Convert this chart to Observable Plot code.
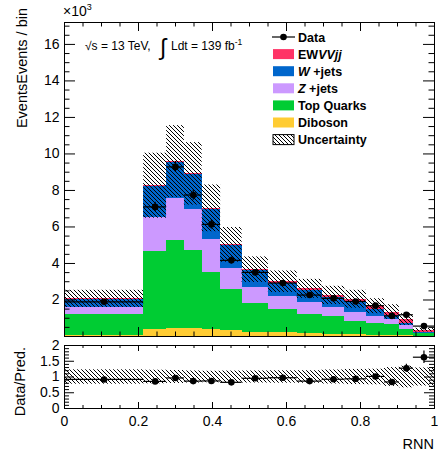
<!DOCTYPE html>
<html><head><meta charset="utf-8">
<script src="https://cdn.jsdelivr.net/npm/d3@7"></script>
<script src="https://cdn.jsdelivr.net/npm/@observablehq/plot@0.6"></script>
<style>
body{margin:0;background:#fff;}
#chart{position:relative;width:438px;height:458px;background:#fff;}
#chart svg{position:absolute;left:0;display:block;}
</style></head><body><div id="chart"></div>
<script>
// ---- data (thousands of events) ----
const binEdges   = [0,0.214,0.276,0.324,0.372,0.422,0.48,0.551,0.629,0.696,0.758,0.816,0.865,0.905,0.943,1];
const diboson    = [0.05,0.37,0.42,0.42,0.37,0.33,0.24,0.20,0.15,0.12,0.10,0.08,0.05,0.03,0.02];
const topQuarks  = [1.14,4.26,4.82,4.31,3.16,2.27,1.59,1.27,1.04,0.98,0.74,0.65,0.59,0.34,0.12];
const zJets      = [0.40,1.89,2.30,2.23,1.80,1.15,0.88,0.74,0.66,0.51,0.50,0.37,0.29,0.23,0.03];
const wJets      = [0.44,1.68,1.98,1.89,1.63,1.21,0.88,0.72,0.68,0.55,0.60,0.37,0.22,0.13,0.03];
const ewVVjj     = [0.03,0.06,0.06,0.06,0.06,0.06,0.07,0.07,0.08,0.09,0.10,0.19,0.19,0.20,0.15];
const uncertainty= [0.47,1.78,1.97,1.71,1.28,0.95,0.70,0.59,0.52,0.50,0.49,0.41,0.40,0.32,0.10];
const dataValues = [1.90,7.10,9.29,7.75,6.14,4.17,3.51,2.93,2.27,2.09,1.92,1.69,1.13,1.19,0.57];
const dataErrors = [0.06,0.25,0.30,0.28,0.25,0.18,0.10,0.08,0.07,0.07,0.07,0.08,0.08,0.12,0.07];

const processNames = ["Diboson","Top Quarks","Z+jets","W+jets","EWVVjj"];
const processValues = [diboson, topQuarks, zJets, wJets, ewVVjj];
const processColors = ["#ffcc33","#00cc33","#cc99ff","#0066cc","#ff3366"];

const xMajorTicks = [0,0.2,0.4,0.6,0.8,1];
const yMajorTicks = [2,4,6,8,10,12,14,16];
const ratioTicks  = [0,0.5,1,1.5,2];

const FONT = '"Liberation Sans", Arial, Helvetica, sans-serif';
const fmt = d => String(d);

// ---- derived tables ----
const stackRows = [];
const binRows = [];
for (let i = 0; i < binEdges.length - 1; i++) {
  let cum = 0;
  processNames.forEach((p, k) => {
    const v = processValues[k][i];
    stackRows.push({process: p, x1: binEdges[i], x2: binEdges[i+1], y1: cum, y2: cum + v});
    cum += v;
  });
  const tot = cum, u = uncertainty[i], d = dataValues[i], e = dataErrors[i];
  binRows.push({
    x1: binEdges[i], x2: binEdges[i+1], xc: (binEdges[i] + binEdges[i+1]) / 2,
    total: tot, lo: tot - u, hi: tot + u,
    data: d, dlo: d - e, dhi: d + e,
    rlo: (tot - u) / tot, rhi: (tot + u) / tot,
    ratio: d / tot, rdlo: (d - e) / tot, rdhi: (d + e) / tot
  });
}

const isMinor = (v, step) => Math.abs(v / step - Math.round(v / step)) > 1e-6;
const xMinor = d3.range(0, 1.0001, 0.05).filter(v => isMinor(v, 0.2));
const yMinor = d3.range(0.5, 17.2, 0.5).filter(v => isMinor(v, 2));
const rMinor = d3.range(0.1, 2, 0.1).filter(v => isMinor(v, 0.5));

const W = 438, ML = 64, MR = 4;
const FW = W - ML - MR;

function tickMarks(xMaj, xMin, yMaj, yMin, FH, xL, xl, yL, yl) {
  return [
    Plot.tickX(xMaj, {insetTop: FH - xL, stroke: "black"}),
    Plot.tickX(xMin, {insetTop: FH - xl, stroke: "black"}),
    Plot.tickX(xMaj, {insetBottom: FH - xL, stroke: "black"}),
    Plot.tickX(xMin, {insetBottom: FH - xl, stroke: "black"}),
    Plot.tickY(yMaj, {insetRight: FW - yL, stroke: "black"}),
    Plot.tickY(yMin, {insetRight: FW - yl, stroke: "black"}),
    Plot.tickY(yMaj, {insetLeft: FW - yL, stroke: "black"}),
    Plot.tickY(yMin, {insetLeft: FW - yl, stroke: "black"})
  ];
}

// ---- main panel ----
const MT = 22, MB = 4, MH = 340;
const main = Plot.plot({
  width: W, height: MH,
  marginLeft: ML, marginRight: MR, marginTop: MT, marginBottom: MB,
  x: {domain: [0, 1], axis: null},
  y: {domain: [0, 17.2]},
  color: {domain: processNames, range: processColors},
  style: {fontFamily: FONT, fontSize: "14px", color: "black", background: "white", overflow: "visible"},
  marks: [
    Plot.rect(stackRows, {x1: "x1", x2: "x2", y1: "y1", y2: "y2", fill: "process", shapeRendering: "crispEdges"}),
    Plot.rect(binRows, {x1: "x1", x2: "x2", y1: "lo", y2: "hi", fill: "url(#hatchMain)"}),
    Plot.ruleY(binRows, {x1: "x1", x2: "x2", y: "data", stroke: "black", strokeWidth: 1.2}),
    Plot.ruleX(binRows, {x: "xc", y1: "dlo", y2: "dhi", stroke: "black", strokeWidth: 1.2}),
    Plot.dot(binRows, {x: "xc", y: "data", r: 3.3, fill: "black", stroke: "none"}),
    ...tickMarks(xMajorTicks, xMinor, yMajorTicks, yMinor, MH - MT - MB, 9, 4.5, 11, 5.5),
    Plot.axisY(yMajorTicks, {tickSize: 0, tickPadding: 5, label: null, tickFormat: fmt}),
    Plot.frame({stroke: "black"})
  ]
});
main.style.top = "0px";

// ---- ratio panel ----
const RT = 5, RB = 50, RH = 118;
const ratio = Plot.plot({
  width: W, height: RH,
  marginLeft: ML, marginRight: MR, marginTop: RT, marginBottom: RB,
  x: {domain: [0, 1]},
  y: {domain: [0, 2]},
  style: {fontFamily: FONT, fontSize: "14px", color: "black", background: "transparent", overflow: "visible"},
  marks: [
    Plot.rect(binRows, {x1: "x1", x2: "x2", y1: "rlo", y2: "rhi", fill: "url(#hatchRatio)"}),
    Plot.ruleY(binRows, {x1: "x1", x2: "x2", y: "ratio", stroke: "black", strokeWidth: 1.2}),
    Plot.ruleX(binRows, {x: "xc", y1: "rdlo", y2: "rdhi", stroke: "black", strokeWidth: 1.2}),
    Plot.dot(binRows, {x: "xc", y: "ratio", r: 3.3, fill: "black", stroke: "none"}),
    ...tickMarks(xMajorTicks, xMinor, ratioTicks, rMinor, RH - RT - RB, 6, 3, 10, 5),
    Plot.axisY(ratioTicks, {tickSize: 0, tickPadding: 5, label: null, tickFormat: fmt}),
    Plot.axisX(xMajorTicks, {tickSize: 0, tickPadding: 8, label: null, tickFormat: fmt}),
    Plot.frame({stroke: "black"})
  ]
});
ratio.style.top = MH + "px";

function addHatch(svg, id) {
  const defs = d3.select(svg).insert("defs", ":first-child");
  const p = defs.append("pattern").attr("id", id).attr("patternUnits", "userSpaceOnUse")
    .attr("width", 4).attr("height", 4);
  p.append("path").attr("d", "M-1,-1L5,5M-1,3L1,5M3,-1L5,1")
    .attr("stroke", "black").attr("stroke-width", 1).attr("fill", "none");
}
addHatch(main, "hatchMain");
addHatch(ratio, "hatchRatio");

// ---- annotations on main panel ----
const g = d3.select(main).append("g").attr("font-family", FONT).attr("fill", "black").attr("text-anchor", "start");

// x10^3
const t10 = g.append("text").attr("x", 63).attr("y", 16).attr("font-size", 14);
t10.append("tspan").text("×10");
t10.append("tspan").attr("font-size", 9).attr("dy", -6).text("3");

// y title
g.append("text").attr("transform", "translate(27,8) rotate(-90)")
  .attr("text-anchor", "end").attr("font-size", 14.5).text("EventsEvents / bin");

// energy / lumi
const tl = g.append("text").attr("font-size", 12);
tl.append("tspan").attr("x", 85).attr("y", 50).text("√s = 13 TeV,");
tl.append("tspan").attr("x", 160).attr("y", 55).attr("font-size", 23).text("∫");
tl.append("tspan").attr("x", 171).attr("y", 50).text("Ldt = 139 fb");
tl.append("tspan").attr("dy", -5).attr("font-size", 8.5).text("-1");

// legend
const legendItems = [
  {kind: "data", parts: [["Data", ""]]},
  {kind: "fill", color: processColors[4], parts: [["EW", ""], ["VVjj", "italic"]]},
  {kind: "fill", color: processColors[3], parts: [["W", "italic"], [" +jets", ""]]},
  {kind: "fill", color: processColors[2], parts: [["Z", "italic"], [" +jets", ""]]},
  {kind: "fill", color: processColors[1], parts: [["Top Quarks", ""]]},
  {kind: "fill", color: processColors[0], parts: [["Diboson", ""]]},
  {kind: "hatch", parts: [["Uncertainty", ""]]}
];
const lg = g.append("g");
legendItems.forEach((it, i) => {
  const cy = 37 + i * 17.1;
  if (it.kind === "data") {
    lg.append("line").attr("x1", 272).attr("x2", 295).attr("y1", cy).attr("y2", cy).attr("stroke", "black").attr("stroke-width", 1.2);
    lg.append("circle").attr("cx", 283.5).attr("cy", cy).attr("r", 3.3).attr("fill", "black");
  } else if (it.kind === "fill") {
    lg.append("rect").attr("x", 273).attr("y", cy - 5).attr("width", 21).attr("height", 10).attr("fill", it.color);
  } else {
    lg.append("rect").attr("x", 273).attr("y", cy - 5).attr("width", 21).attr("height", 10)
      .attr("fill", "url(#hatchMain)").attr("stroke", "black").attr("stroke-width", 1);
  }
  const tx = lg.append("text").attr("x", 298).attr("y", cy).attr("dy", "0.36em")
    .attr("font-size", 12.5).attr("font-weight", "bold");
  it.parts.forEach(([s, st]) => { const ts = tx.append("tspan").text(s); if (st) ts.attr("font-style", st); });
});

// ---- ratio panel titles ----
const rg = d3.select(ratio).append("g").attr("font-family", FONT).attr("fill", "black").attr("text-anchor", "start");
rg.append("text").attr("transform", "translate(25,7) rotate(-90)")
  .attr("text-anchor", "end").attr("font-size", 14.5).text("Data/Pred.");
rg.append("text").attr("x", 434).attr("y", 109).attr("text-anchor", "end")
  .attr("font-size", 14.5).text("RNN");

const chart = document.getElementById("chart");
chart.appendChild(main);
chart.appendChild(ratio);
</script></body></html>
